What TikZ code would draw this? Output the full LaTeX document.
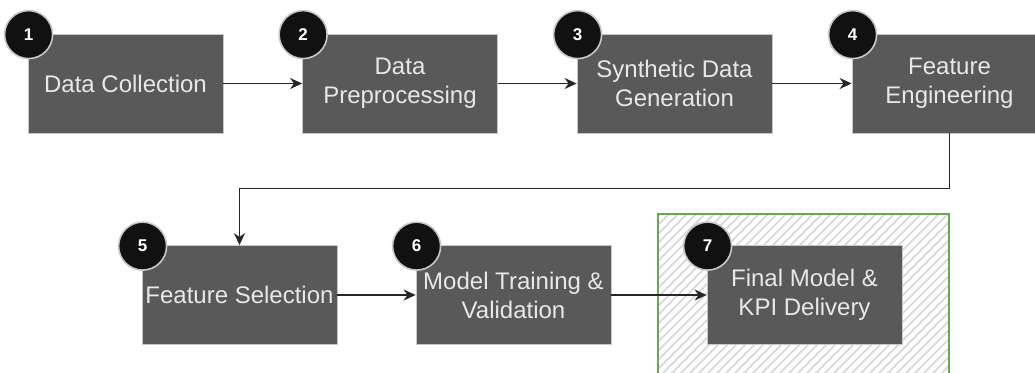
\documentclass[tikz,border=0pt]{standalone}
\usepackage{fontspec}
\setmainfont{Liberation Sans}
\usetikzlibrary{arrows.meta,calc}
\definecolor{boxfill}{HTML}{595959}
\definecolor{boxtext}{HTML}{E8E8E8}
\definecolor{badge}{HTML}{111111}
\definecolor{ringc}{HTML}{C8C8C8}
\definecolor{frameg}{HTML}{6AA84F}
\definecolor{hatchc}{HTML}{D6D6D6}
\tikzset{
  stagebox/.style={draw=ringc, line width=0.8pt, fill=boxfill, text=boxtext,
    minimum width=195pt, minimum height=99pt, inner sep=0pt, align=center,
    font=\fontsize{24}{29}\selectfont},
  badgenum/.style={circle, fill=badge, draw=ringc, line width=1.6pt,
    minimum size=48pt, inner sep=0pt, text=white,
    font=\fontsize{17}{17}\selectfont\bfseries},
  flow/.style={line width=1.4pt, draw=black!85, -{Stealth[length=12pt,width=11pt]}}
}
\begin{document}
\begin{tikzpicture}[x=1pt,y=-1pt]
\useasboundingbox (0,0) rectangle (1035,372);
\fill[white] (0,0) rectangle (1035,372);

% hatched frame around the final stage
\begin{scope}
  \clip (658,214) rectangle (949,380);
  \foreach \k in {0,9,...,480} {
    \draw[hatchc, line width=1.7pt] (658+\k-200,380) -- (658+\k-200+200,180);
  }
\end{scope}
\draw[frameg, line width=1.5pt] (658,214) rectangle (949,380);

% stages
\node[stagebox] (s1) at (125.5,83.5) {Data Collection};
\node[stagebox] (s2) at (400,83.5) {Data\\Preprocessing};
\node[stagebox] (s3) at (674.5,83.5) {Synthetic Data\\Generation};
\node[stagebox] (s4) at (949.5,83.5) {Feature\\Engineering};
\node[stagebox] (s5) at (239.5,295) {Feature Selection};
\node[stagebox] (s6) at (513.5,295) {Model Training \&\\Validation};
\node[stagebox] (s7) at (804.5,295) {Final Model \&\\KPI Delivery};

% numbered badges
\foreach \i in {1,...,7} {
  \node[badgenum] (b\i) at ($(s\i.north west)+(1,1)$) {\i};
}

% connectors
\draw[flow] (s1.east) -- (s2.west);
\draw[flow] (s2.east) -- (s3.west);
\draw[flow] (s3.east) -- (s4.west);
\coordinate (turn) at ($(s4.south)+(0,55)$);
\draw[flow] (s4.south) -- (turn) -| (s5.north);
\draw[flow] (s5.east) -- (s6.west);
\draw[flow] (s6.east) -- (s7.west);
\end{tikzpicture}
\end{document}
